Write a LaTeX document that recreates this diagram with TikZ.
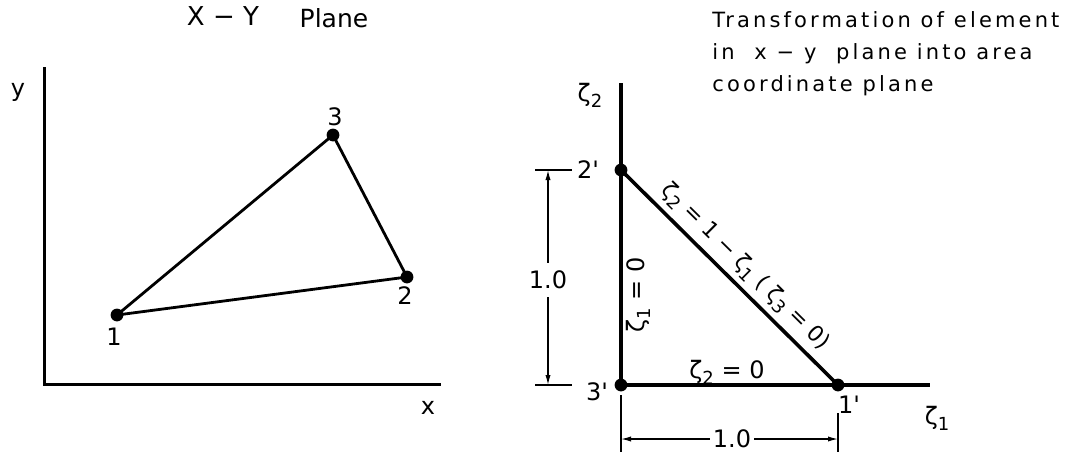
\documentclass[tikz,border=0pt]{standalone}
\usepackage{fontspec}
\usetikzlibrary{arrows.meta}
\newfontfamily\lettering[LetterSpace=15]{DejaVu Sans}
\newfontfamily\plainlettering{DejaVu Sans}
\newcommand{\zet}[1]{ζ\raisebox{-.45ex}{\fontsize{9}{9}\selectfont#1}}

\begin{document}
\begin{tikzpicture}[x=.5pt, y=-.5pt,
  every node/.style={font=\plainlettering\fontsize{12}{14}\selectfont, inner sep=0pt},
  vertex/.style={circle, fill, minimum size=6.4pt, inner sep=0pt},
  axis/.style={line width=1.8pt},
  edge/.style={line width=1.4pt},
  dimline/.style={line width=.6pt},
  dimarrow/.style={dimline, -{Latex[length=5pt,width=2.6pt]}},
  caption/.style={font=\lettering\fontsize{10.5}{16}\selectfont, align=left, anchor=north west}]
\useasboundingbox (0,0) rectangle (1073,452);
% x-y plane
\coordinate (ytop) at (44,67);
\coordinate (orig) at (44,384);
\coordinate (xend) at (441,384);
\draw[axis, line width=1.5pt] (ytop) -- (orig) -- (xend);
\node (ylab) at (18,92) {y};
\node (xlab) at (428,408) {x};
\node[font=\plainlettering\fontsize{13}{14}\selectfont] (ttla) at (223,16) {X − Y};
\node[font=\plainlettering\fontsize{12.5}{14}\selectfont] (ttlb) at (334,18) {Plane};
% element
\node[vertex] (n1) at (117,315) {};
\node[vertex] (n2) at (407,277) {};
\node[vertex] (n3) at (333,135) {};
\draw[edge] (n1.center) -- (n2.center) -- (n3.center) -- cycle;
\node (l1) at (114,337) {1};
\node (l2) at (405,296) {2};
\node (l3) at (335,117) {3};
% area coordinate plane
\coordinate (z2top) at (621,83);
\coordinate (z1end) at (930,385);
\node[vertex] (p2) at (621,170) {};
\node[vertex] (p3) at (621,385) {};
\node[vertex] (p1) at (838,385) {};
\draw[axis] (z2top) -- (p3.center) -- (z1end);
\draw[axis] (p2.center) -- (p1.center);
\node (z2lab) at (590,95) {\zet{2}};
\node (z1lab) at (937,418) {\zet{1}};
\node (l2p) at (588,170) {2'};
\node (l3p) at (597,392) {3'};
\node (l1p) at (849,405) {1'};
\node (zeqb) at (727,372) {\zet{2} = 0};
\node[rotate=90] (zeqa) at (638,295) {\zet{1} = 0};
\node[rotate=-44.7, font=\plainlettering\fontsize{11}{12}\selectfont] (hyp) at (745,267) {\zet{2} = 1 − \zet{1} ( \zet{3} = 0)};
% dimensions
\coordinate (vt) at (548,170);
\coordinate (vb) at (548,385);
\draw[dimline] (535,170) -- (572,170);
\draw[dimline] (535,385) -- (572,385);
\node[inner sep=4pt] (dimv) at (548,280) {1.0};
\draw[dimarrow] (dimv) -- (vt);
\draw[dimarrow] (dimv) -- (vb);
\coordinate (hl) at (621,439);
\coordinate (hr) at (838,439);
\draw[dimline] (621,395) -- (621,452);
\draw[dimline] (838,413) -- (838,452);
\node[inner sep=1.5pt] (dimh) at (732,439) {1.0};
\draw[dimarrow] (dimh) -- (hl);
\draw[dimarrow] (dimh) -- (hr);
% caption
\node[caption] (cap) at (712,11) {Transformation of element\\in \ x − y \ plane into area\\coordinate plane};
\end{tikzpicture}
\end{document}
